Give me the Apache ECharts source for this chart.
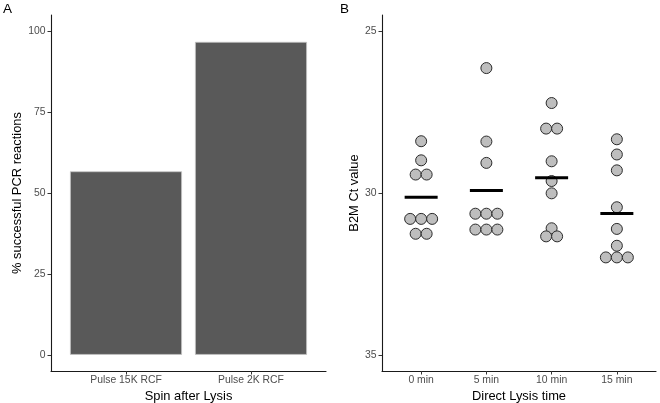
<!DOCTYPE html>
<html>
<head>
<meta charset="utf-8">
<script src="https://cdn.jsdelivr.net/npm/echarts@6/dist/echarts.min.js"></script>
<style>
html,body{margin:0;padding:0;background:#fff;}
#chart{width:660px;height:403px;}
</style>
</head>
<body>
<div id="chart"></div>
<script>
// ---- Data ----
const spinCategories = ['Pulse 15K RCF', 'Pulse 2K RCF'];
const successPct = [56.7, 96.7];
const pctTicks = [0, 25, 50, 75, 100];

const lysisCategories = ['0 min', '5 min', '10 min', '15 min'];
const ct0min = [28.40, 28.99, 29.43, 29.43, 30.80, 30.80, 30.80, 31.26, 31.26];
const ct5min = [26.14, 28.41, 29.07, 30.64, 30.64, 30.64, 31.13, 31.13, 31.13];
const ct10min = [27.22, 28.01, 28.01, 29.02, 29.63, 30.01, 31.09, 31.34, 31.34];
const ct15min = [28.34, 28.81, 29.30, 30.44, 31.11, 31.63, 31.99, 31.99, 31.99];
const ctMeans = [30.13, 29.92, 29.53, 30.63];
const ctTicks = [25, 30, 35];

// ---- Build ----
const FONT = 'Liberation Sans';
const DOT = 11;
const ctGroups = [ct0min, ct5min, ct10min, ct15min];

const dotData = [];
ctGroups.forEach((vals, gi) => {
  const counts = {};
  vals.forEach(v => { counts[v] = (counts[v] || 0) + 1; });
  const seen = {};
  vals.forEach(v => {
    const n = counts[v];
    const k = seen[v] = (seen[v] === undefined ? 0 : seen[v] + 1);
    dotData.push({ value: [gi + 1, v], symbolOffset: [(k - (n - 1) / 2) * DOT, 0] });
  });
});
const meanData = ctMeans.map((m, i) => [i + 1, m]);
const barData = successPct.map((v, i) => [i + 1, v]);

const axisLineStyle = { show: true, onZero: false, lineStyle: { color: '#1a1a1a', width: 1.1 } };
const tickStyle = { show: true, length: 3.5, lineStyle: { color: '#333', width: 1 } };
const labelStyle = { color: '#4d4d4d', fontSize: 10.4, fontFamily: FONT };
const nameStyle = { color: '#000', fontSize: 12.9, fontFamily: FONT };

const chart = echarts.init(document.getElementById('chart'), null, { renderer: 'canvas' });
chart.setOption({
  backgroundColor: '#fff',
  animation: false,
  title: [
    { text: 'A', left: 3, top: 2, padding: 0, textStyle: { fontSize: 13.5, fontWeight: 'normal', color: '#000', fontFamily: FONT } },
    { text: 'B', left: 340, top: 2, padding: 0, textStyle: { fontSize: 13.5, fontWeight: 'normal', color: '#000', fontFamily: FONT } }
  ],
  grid: [
    { left: 51, top: 15, width: 275, height: 356, containLabel: false, outerBoundsMode: 'none' },
    { left: 382, top: 15, width: 274, height: 356, containLabel: false, outerBoundsMode: 'none' }
  ],
  xAxis: [
    {
      type: 'value', gridIndex: 0, min: 0.4, max: 2.6,
      name: 'Spin after Lysis', nameLocation: 'middle', nameGap: 14.5, nameTextStyle: nameStyle,
      axisLine: axisLineStyle, splitLine: { show: false },
      axisTick: Object.assign({}, tickStyle, { customValues: [1, 2] }),
      axisLabel: Object.assign({}, labelStyle, { margin: 4, customValues: [1, 2], formatter: v => spinCategories[Math.round(v) - 1] })
    },
    {
      type: 'value', gridIndex: 1, min: 0.4, max: 4.6,
      name: 'Direct Lysis time', nameLocation: 'middle', nameGap: 14.5, nameTextStyle: nameStyle,
      axisLine: axisLineStyle, splitLine: { show: false },
      axisTick: Object.assign({}, tickStyle, { customValues: [1, 2, 3, 4] }),
      axisLabel: Object.assign({}, labelStyle, { margin: 4, customValues: [1, 2, 3, 4], formatter: v => lysisCategories[Math.round(v) - 1] })
    }
  ],
  yAxis: [
    {
      type: 'value', gridIndex: 0, min: -5, max: 105,
      name: '% successful PCR reactions', nameLocation: 'middle', nameGap: 25, nameTextStyle: nameStyle,
      axisLine: axisLineStyle, splitLine: { show: false },
      axisTick: Object.assign({}, tickStyle, { customValues: pctTicks }),
      axisLabel: Object.assign({}, labelStyle, { margin: 5.5, customValues: pctTicks })
    },
    {
      type: 'value', gridIndex: 1, min: 24.5, max: 35.5, inverse: true,
      name: 'B2M Ct value', nameLocation: 'middle', nameGap: 19, nameTextStyle: nameStyle,
      axisLine: axisLineStyle, splitLine: { show: false },
      axisTick: Object.assign({}, tickStyle, { customValues: ctTicks }),
      axisLabel: Object.assign({}, labelStyle, { margin: 5.5, customValues: ctTicks })
    }
  ],
  series: [
    {
      type: 'bar', xAxisIndex: 0, yAxisIndex: 0, data: barData, barWidth: 112,
      itemStyle: { color: '#595959', borderColor: '#c4c4c4', borderWidth: 0.8 }
    },
    {
      type: 'scatter', xAxisIndex: 1, yAxisIndex: 1, data: dotData, symbol: 'circle', symbolSize: DOT,
      itemStyle: { color: '#bebebe', borderColor: '#2b2b2b', borderWidth: 1, opacity: 1 }, z: 2
    },
    {
      type: 'scatter', xAxisIndex: 1, yAxisIndex: 1, data: meanData, symbol: 'rect', symbolSize: [33, 3],
      itemStyle: { color: '#000', opacity: 1 }, z: 3
    }
  ]
});
</script>
</body>
</html>
